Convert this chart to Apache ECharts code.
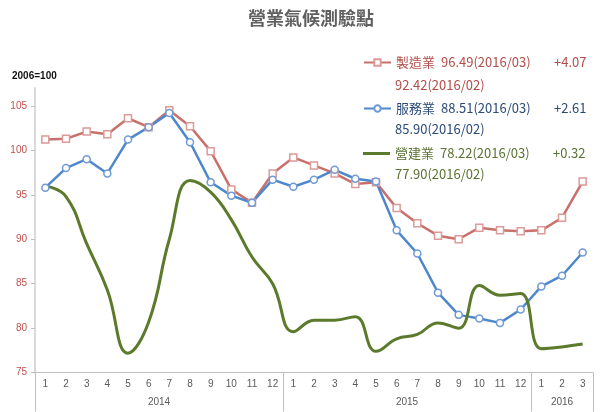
<!DOCTYPE html>
<html>
<head>
<meta charset="utf-8">
<script src="https://cdn.jsdelivr.net/npm/echarts@6/dist/echarts.min.js"></script>
<style>html,body{margin:0;padding:0;background:#fff}#c{width:600px;height:412px}</style>
</head>
<body>
<div id="c"></div>
<script>
// ---- data ----
const months = ['1','2','3','4','5','6','7','8','9','10','11','12',
                '1','2','3','4','5','6','7','8','9','10','11','12',
                '1','2','3'];
const years = ['2014','2015','2016'];
const yearCounts = [12, 12, 3];
const yTicks = [75, 80, 85, 90, 95, 100, 105];
const seriesNames = ['製造業', '服務業', '營建業'];
const manufacturing = [101.2,101.3,102.1,101.8,103.6,102.6,104.5,102.7,99.9,95.6,94.1,97.4,
                       99.2,98.3,97.4,96.2,96.4,93.5,91.8,90.4,90.0,91.3,91.0,90.9,
                       91.0,92.42,96.49];
const services = [95.8,98.0,99.0,97.4,101.2,102.6,104.2,100.9,96.4,94.9,94.1,96.7,
                  95.9,96.7,97.8,96.8,96.5,91.0,88.4,84.0,81.5,81.1,80.6,82.1,
                  84.7,85.90,88.51];
const construction = [96.0,94.8,89.5,84.3,77.2,80.7,90.0,96.6,95.3,92.2,88.0,85.0,
                      79.6,80.9,80.9,81.3,77.4,78.8,79.3,80.6,80.0,84.8,83.7,83.9,
                      77.7,77.90,78.22];
const baseNote = '2006=100';
const title = '營業氣候測驗點';

// ---- derived ----
const allSeries = [manufacturing, services, construction];
const textColors = ['#b24d49', '#2b4a78', '#5a7232'];
const lineColors = ['#c8706c', '#4f87cc', '#5b7a2c'];
const n = months.length;
const lastYear = years[years.length - 1];
const pad = s => (s.length < 2 ? '0' + s : s);
const curLabel = lastYear + '/' + pad(months[n - 1]);
const prevLabel = lastYear + '/' + pad(months[n - 2]);
const total = yearCounts.reduce((a, b) => a + b, 0);
const yearBounds = [0];
const yearCenters = [];
let acc = 0;
yearCounts.forEach(c => { yearCenters.push(acc + c / 2); acc += c; yearBounds.push(acc); });

const CJK = '"Noto Sans CJK TC", "Noto Sans", sans-serif';
const rowY = [65, 111, 156];
const legends = seriesNames.map((name, i) => {
  const d = allSeries[i];
  const cur = d[n - 1], prev = d[n - 2];
  const diff = cur - prev;
  const isLineOnly = i === 2;
  return {
    data: isLineOnly ? [{ name: name, icon: 'rect' }] : [name],
    left: 363, top: rowY[i] - 9, padding: 0,
    itemWidth: 27, itemHeight: isLineOnly ? 3 : 8, itemGap: 0,
    selectedMode: false,
    formatter: () => '{n|' + name + '}{v|' + cur.toFixed(2) + '(' + curLabel + ')}{d|' + (diff >= 0 ? '+' : '') + diff.toFixed(2) + '}',
    textStyle: {
      color: textColors[i], fontSize: 13, fontFamily: CJK,
      rich: {
        n: { width: 45, color: textColors[i], fontSize: 13, fontFamily: CJK },
        v: { width: 113, color: textColors[i], fontSize: 13, fontFamily: CJK },
        d: { color: textColors[i], fontSize: 13, fontFamily: CJK }
      }
    }
  };
});
const prevRowY = [87, 131, 176];
const graphics = seriesNames.map((name, i) => {
  const d = allSeries[i];
  return {
    type: 'text', left: 395, top: prevRowY[i] - 8,
    style: { text: d[n - 2].toFixed(2) + '(' + prevLabel + ')', fill: textColors[i], fontSize: 13, fontFamily: CJK }
  };
});
graphics.push({
  type: 'text', left: 12, top: 71,
  style: { text: baseNote, fill: '#111', fontSize: 10, fontWeight: 'bold', fontFamily: 'Liberation Sans, sans-serif' }
});

const chart = echarts.init(document.getElementById('c'), null, { renderer: 'canvas' });
chart.setOption({
  animation: false,
  backgroundColor: '#fff',
  title: {
    text: title, left: 243, top: 4,
    textStyle: { fontSize: 18, fontWeight: 'bold', color: '#606060', fontFamily: CJK }
  },
  legend: legends,
  graphic: graphics,
  grid: { left: 35, right: 7, top: 88, bottom: 39.3 },
  xAxis: [{
    type: 'category', data: months, boundaryGap: true,
    axisLine: { lineStyle: { color: '#bfbfbf', width: 1 } },
    axisTick: { interval: 0, length: 17, lineStyle: { color: '#bfbfbf' } },
    axisLabel: { interval: 0, margin: 7, fontSize: 10, color: '#595959', fontFamily: 'Liberation Sans, sans-serif' },
    splitLine: { show: false }
  }, {
    type: 'value', min: 0, max: total, position: 'bottom',
    axisLine: { show: false },
    axisTick: { show: true, length: 39, customValues: yearBounds, lineStyle: { color: '#bfbfbf' } },
    axisLabel: {
      margin: 25, fontSize: 10, color: '#595959', fontFamily: 'Liberation Sans, sans-serif',
      customValues: yearCenters,
      formatter: v => { const k = yearCenters.indexOf(v); return k >= 0 ? years[k] : ''; }
    },
    splitLine: { show: false }
  }],
  yAxis: {
    type: 'value', min: 75, max: 107, interval: 5,
    axisLine: { show: true, lineStyle: { color: '#d9d9d9', width: 2 } },
    axisTick: { show: true, length: 4, customValues: yTicks, lineStyle: { color: '#bfbfbf' } },
    axisLabel: { customValues: yTicks, margin: 8, fontSize: 10, color: '#c0504d', fontFamily: 'Liberation Sans, sans-serif' },
    splitLine: { show: false }
  },
  series: [{
    name: seriesNames[0], type: 'line', data: manufacturing, xAxisIndex: 0,
    symbol: 'rect', symbolSize: 7, showAllSymbol: true,
    lineStyle: { color: lineColors[0], width: 2.5 },
    itemStyle: { color: '#fff', borderColor: '#dc9a98', borderWidth: 1.5 },
    emphasis: { disabled: true }
  }, {
    name: seriesNames[1], type: 'line', data: services, xAxisIndex: 0,
    symbol: 'circle', symbolSize: 7, showAllSymbol: true,
    lineStyle: { color: lineColors[1], width: 2.5 },
    itemStyle: { color: '#fff', borderColor: '#6f9ad6', borderWidth: 1.5 },
    emphasis: { disabled: true }
  }, {
    name: seriesNames[2], type: 'line', data: construction, xAxisIndex: 0,
    symbol: 'none', smooth: 0.45,
    lineStyle: { color: lineColors[2], width: 3 },
    itemStyle: { color: lineColors[2] },
    emphasis: { disabled: true }
  }]
});
</script>
</body>
</html>
